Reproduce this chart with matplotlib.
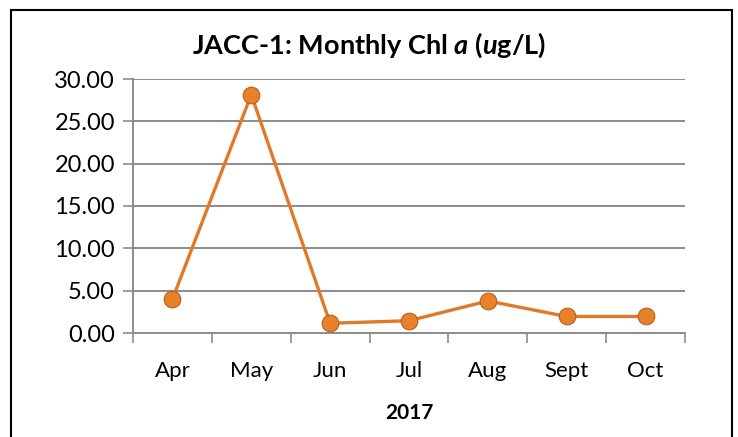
import matplotlib
matplotlib.use('Agg')
from matplotlib import pyplot as plt
from matplotlib.patches import Rectangle

# data
months = ['Apr', 'May', 'Jun', 'Jul', 'Aug', 'Sept', 'Oct']
chl_a = [4.0, 28.15, 1.15, 1.45, 3.78, 1.95, 1.95]
y_ticks = [0, 5, 10, 15, 20, 25, 30]

plt.rcParams['font.family'] = ['Lato', 'DejaVu Sans']
plt.rcParams['mathtext.fontset'] = 'custom'
plt.rcParams['mathtext.it'] = 'Lato:italic:bold'
plt.rcParams['mathtext.rm'] = 'Lato:bold'

fig = plt.figure(figsize=(7.38, 4.37), dpi=100)
ax = fig.add_axes([133/738, 1-333/437, (685-133)/738, (333-79)/437])

x = list(range(len(months)))
ax.plot(x, chl_a, color='#E07A2A', lw=2.4, zorder=3)
ax.plot(x, chl_a, ls='none', marker='o', ms=12, mfc='#E8822A',
        mec='#B8601A', mew=0.8, zorder=4)

ax.set_xlim(-0.5, len(months) - 0.5)
ax.set_ylim(0, 30)
ax.set_yticks(y_ticks)
ax.set_yticklabels(['%.2f' % v for v in y_ticks], fontsize=17)
ax.set_xticks(x)
ax.set_xticklabels(months, fontsize=16)
ax.set_xticks([i - 0.5 for i in range(len(months) + 1)], minor=True)
ax.tick_params(axis='x', which='major', length=0, pad=20)
ax.tick_params(axis='x', which='minor', length=7, width=1.2, color='#8C8C8C')
ax.tick_params(axis='y', length=7, width=1.2, color='#8C8C8C', pad=6)

ax.grid(axis='y', color='#8C8C8C', lw=1.4)
ax.set_axisbelow(True)
for s in ['top', 'right']:
    ax.spines[s].set_visible(False)
for s in ['left', 'bottom']:
    ax.spines[s].set_color('#8C8C8C')
    ax.spines[s].set_linewidth(1.4)

ax.set_xlabel('2017', fontsize=15, fontweight='bold', labelpad=16)
fig.text(0.5, 1-45/437, r'JACC-1: Monthly Chl $a$ ($u$g/L)', ha='center', va='center',
         fontsize=19.5, fontweight='bold')

fig.patches.append(Rectangle((11/738, -0.05), (732-11)/738, 1.05-10/437,
                             transform=fig.transFigure, fill=False,
                             ec='black', lw=1.5))

fig.savefig('out.png', dpi=100)
